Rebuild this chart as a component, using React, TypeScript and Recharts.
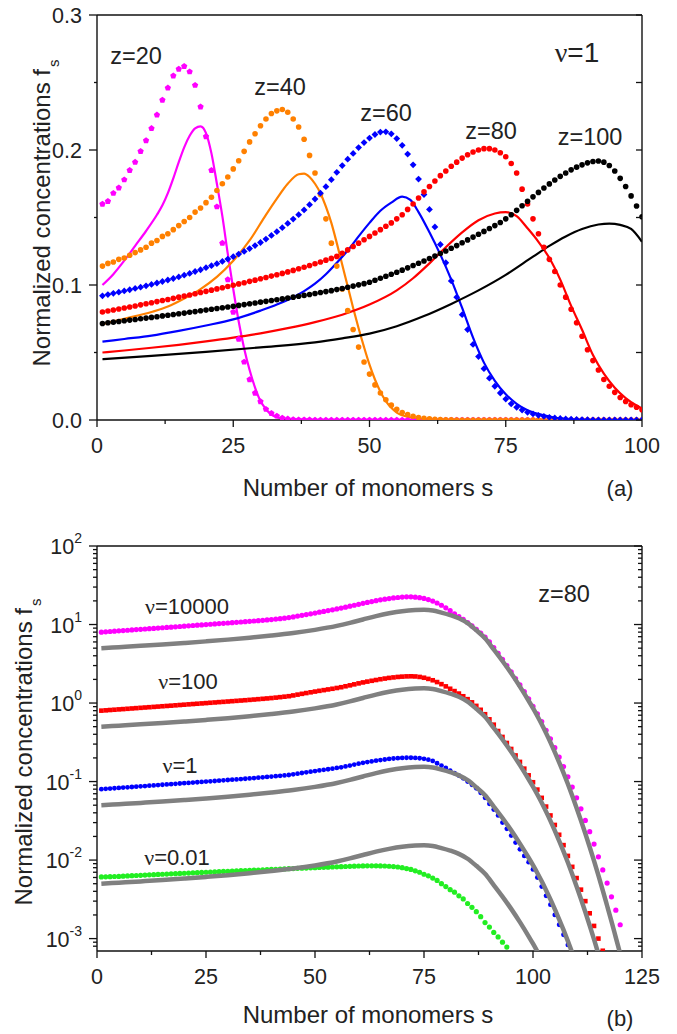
// Two-panel figure: cluster size distributions f_s (linear, z series) and log panel (nu series).
import React from 'react'
import { ComposedChart, Line, Scatter, XAxis, YAxis } from 'recharts'

const FONT = '"Liberation Sans", Arial, Helvetica, sans-serif'
const SERIF = '"Liberation Serif", "Times New Roman", serif'
const INK = '#222'

// ---- panel (a): dotted series, one value per s = 1, 2, 3, ...
const F_Z20 = [
  0.160, 0.162, 0.168, 0.172, 0.178, 0.185, 0.191, 0.199, 0.207, 0.216,
  0.226, 0.237, 0.246, 0.255, 0.260, 0.262, 0.258, 0.248, 0.232, 0.210,
  0.185, 0.158, 0.131, 0.104, 0.080, 0.060, 0.043, 0.030, 0.020, 0.0136,
  0.008, 0.005, 0.003, 0.0015, 0.0008, 0.0004, 0.0002, 0.0001, 0.0001, 0,
  0, 0, 0, 0, 0, 0, 0, 0, 0, 0,
  0, 0, 0, 0, 0, 0, 0, 0, 0, 0,
  0, 0, 0, 0, 0, 0, 0, 0, 0, 0,
  0, 0, 0, 0, 0, 0, 0, 0, 0, 0,
  0, 0, 0, 0, 0, 0, 0, 0, 0, 0,
  0, 0, 0, 0, 0, 0, 0, 0, 0, 0,
]
const F_Z40 = [
  0.114, 0.116, 0.117, 0.119, 0.120, 0.122, 0.124, 0.126, 0.128, 0.131,
  0.133, 0.136, 0.138, 0.141, 0.144, 0.147, 0.150, 0.154, 0.157, 0.161,
  0.165, 0.170, 0.175, 0.180, 0.186, 0.192, 0.199, 0.206, 0.212, 0.218,
  0.223, 0.227, 0.229, 0.230, 0.228, 0.223, 0.217, 0.208, 0.196, 0.183,
  0.167, 0.149, 0.131, 0.114, 0.097, 0.081, 0.067, 0.054, 0.043, 0.034,
  0.026, 0.020, 0.015, 0.011, 0.008, 0.0056, 0.004, 0.0028, 0.0019, 0.0013,
  0.0008, 0.0005, 0.0003, 0.0002, 0.0001, 0, 0, 0, 0, 0,
  0, 0, 0, 0, 0, 0, 0, 0, 0, 0,
  0, 0, 0, 0, 0, 0, 0, 0, 0, 0,
  0, 0, 0, 0, 0, 0, 0, 0, 0, 0,
]
const F_Z60 = [
  0.0920, 0.0929, 0.0938, 0.0947, 0.0956, 0.0965, 0.0975, 0.0984, 0.0994, 0.1004,
  0.1015, 0.1026, 0.1037, 0.1048, 0.1060, 0.1073, 0.1086, 0.1100, 0.1113, 0.1128,
  0.1143, 0.1158, 0.1175, 0.1192, 0.1210, 0.1229, 0.1249, 0.1270, 0.1292, 0.1315,
  0.1340, 0.1367, 0.1395, 0.1425, 0.1456, 0.1488, 0.1521, 0.1556, 0.1595, 0.1637,
  0.1680, 0.1728, 0.1780, 0.1835, 0.1885, 0.1932, 0.1975, 0.2018, 0.2055, 0.2088,
  0.2115, 0.2133, 0.2135, 0.2120, 0.2085, 0.2035, 0.1970, 0.1890, 0.1785, 0.1670,
  0.156, 0.143, 0.130, 0.1165, 0.103, 0.091, 0.078, 0.067, 0.056, 0.047,
  0.038, 0.031, 0.025, 0.020, 0.0155, 0.012, 0.0094, 0.0074, 0.0057, 0.0045,
  0.0035, 0.0027, 0.002, 0.0015, 0.0011, 0.0008, 0.0006, 0.0004, 0.0003, 0.0002,
  0.0001, 0, 0, 0, 0, 0, 0, 0, 0, 0,
]
// z=80, nu=1: shared by both panels (red dots in (a), blue dots in (b))
const F_Z80 = [
  0.0800, 0.0807, 0.0815, 0.0822, 0.0830, 0.0837, 0.0845, 0.0853, 0.0861, 0.0869,
  0.0877, 0.0885, 0.0893, 0.0901, 0.0910, 0.0918, 0.0926, 0.0935, 0.0944, 0.0953,
  0.0962, 0.0971, 0.0980, 0.0989, 0.0998, 0.1008, 0.1017, 0.1027, 0.1036, 0.1046,
  0.1056, 0.1066, 0.1076, 0.1086, 0.1097, 0.1108, 0.1120, 0.1132, 0.1144, 0.1157,
  0.1170, 0.1184, 0.1197, 0.1212, 0.1235, 0.126, 0.1285, 0.131, 0.1335, 0.136,
  0.1385, 0.141, 0.1435, 0.146, 0.149, 0.152, 0.156, 0.160, 0.1645, 0.169,
  0.173, 0.177, 0.181, 0.1845, 0.188, 0.191, 0.194, 0.1965, 0.1985, 0.200,
  0.201, 0.201, 0.200, 0.198, 0.195, 0.190, 0.183, 0.171, 0.160, 0.149,
  0.138, 0.128, 0.119, 0.110, 0.100, 0.091, 0.082, 0.072, 0.062, 0.052,
  0.044, 0.037, 0.030, 0.025, 0.0205, 0.0167, 0.0137, 0.0113, 0.0094, 0.0076,
  0.0060, 0.0046, 0.0035, 0.0027, 0.0020, 0.0015, 0.00112, 0.00083,
]
const F_Z100 = [
  0.0715, 0.0720, 0.0725, 0.0730, 0.0735, 0.0740, 0.0745, 0.0750, 0.0755, 0.0760,
  0.0765, 0.0771, 0.0776, 0.0781, 0.0787, 0.0792, 0.0798, 0.0803, 0.0809, 0.0814,
  0.0820, 0.0826, 0.0831, 0.0837, 0.0843, 0.0849, 0.0855, 0.0861, 0.0867, 0.0873,
  0.0879, 0.0885, 0.0891, 0.0897, 0.0904, 0.0910, 0.0917, 0.0923, 0.0930, 0.0937,
  0.0944, 0.0951, 0.0958, 0.0966, 0.0974, 0.0983, 0.0992, 0.1001, 0.1010, 0.1020,
  0.1035, 0.1050, 0.1065, 0.1080, 0.1095, 0.1110, 0.1127, 0.1144, 0.1161, 0.1178,
  0.1196, 0.1214, 0.1233, 0.1252, 0.1272, 0.1292, 0.1313, 0.1334, 0.1355, 0.1376,
  0.1397, 0.1418, 0.1440, 0.1463, 0.1490, 0.1520, 0.1553, 0.1587, 0.1620, 0.1653,
  0.1686, 0.1718, 0.1749, 0.1778, 0.1805, 0.1830, 0.1853, 0.1873, 0.1890, 0.1905,
  0.1915, 0.1918, 0.1910, 0.1885, 0.1845, 0.1790, 0.1730, 0.1660, 0.1585, 0.1506,
]

// ---- panel (a): solid curves, [s, f_s]
const L_Z20 = [
  [1, 0.100], [3, 0.108], [5, 0.118], [7, 0.129], [9, 0.140], [11, 0.152], [12, 0.159],
  [13, 0.168], [14, 0.179], [15, 0.191], [16, 0.202], [17, 0.2105], [18, 0.216], [19, 0.2175],
  [20, 0.2125], [21, 0.1975], [22, 0.175], [23, 0.151], [24, 0.123], [25, 0.097], [26, 0.073],
  [27, 0.053], [28, 0.037], [29, 0.024], [30, 0.014], [31, 0.008], [32, 0.004], [33, 0.002],
  [34, 0.001], [36, 0.0003], [40, 0], [100, 0],
]
const L_Z40 = [
  [1, 0.071], [5, 0.075], [10, 0.080], [13, 0.084], [16, 0.090], [19, 0.097], [22, 0.106],
  [25, 0.118], [28, 0.133], [31, 0.152], [33, 0.164], [35, 0.175], [37, 0.182], [38, 0.1825],
  [39, 0.180], [40, 0.175], [41, 0.168], [42, 0.158], [43, 0.146], [44, 0.131], [45, 0.115],
  [46, 0.099], [47, 0.083], [48, 0.068], [49, 0.054], [50, 0.041], [51, 0.030], [52, 0.021],
  [53, 0.014], [54, 0.009], [55, 0.0055], [56, 0.0035], [58, 0.0015], [60, 0.0006],
  [65, 0.0001], [70, 0], [100, 0],
]
const L_Z60 = [
  [1, 0.058], [5, 0.060], [10, 0.0625], [15, 0.066], [20, 0.070], [25, 0.0745], [30, 0.081],
  [33, 0.0855], [36, 0.091], [38, 0.0955], [40, 0.101], [42, 0.108], [44, 0.1165], [46, 0.1255],
  [48, 0.136], [50, 0.146], [52, 0.155], [54, 0.161], [56, 0.1655], [57.5, 0.163], [59, 0.154],
  [61, 0.139], [63, 0.1225], [65, 0.104], [67, 0.083], [69, 0.061], [71, 0.0425], [73, 0.029],
  [75, 0.019], [77, 0.012], [79, 0.0072], [82, 0.0035], [85, 0.0012], [90, 0.0002], [95, 0],
  [100, 0],
]
// z=80, nu=1 curve: red line in (a), grey nu=1 line in (b)
const L_Z80 = [
  [1, 0.050], [5, 0.0515], [10, 0.0535], [15, 0.0557], [20, 0.0582], [25, 0.061], [30, 0.0642],
  [35, 0.068], [40, 0.0725], [45, 0.078], [50, 0.0855], [55, 0.096], [58, 0.105], [61, 0.116],
  [64, 0.128], [67, 0.139], [70, 0.148], [73, 0.153], [75, 0.154], [77, 0.151], [79, 0.142],
  [81, 0.132], [83, 0.120], [85, 0.104], [87, 0.0845], [89, 0.0668], [91, 0.0481], [93, 0.0343],
  [95, 0.0239], [97, 0.0162], [99, 0.0107], [100, 0.0086], [101, 0.00684], [102, 0.00536],
  [103, 0.00414], [104, 0.00316], [105, 0.00237], [106, 0.00176], [107, 0.00129], [108, 0.00093],
  [109, 0.00066], [110, 0.000462], [111, 0.00032], [112, 0.000218], [113, 0.000147],
  [114, 0.0000975], [115, 0.0000638], [116, 0.0000412], [117, 0.0000262], [118, 0.0000166],
  [119, 0.0000103], [120, 0.0000064], [121, 0.0000039],
]
const L_Z100 = [
  [1, 0.045], [10, 0.0475], [20, 0.0505], [30, 0.0538], [40, 0.0575], [45, 0.0605], [50, 0.064],
  [55, 0.0695], [60, 0.077], [65, 0.086], [70, 0.096], [75, 0.1075], [80, 0.121], [83, 0.129],
  [86, 0.136], [89, 0.1415], [92, 0.1448], [94, 0.1455], [96, 0.1445], [98, 0.1415], [100, 0.132],
]

// ---- panel (b): dotted series (z=80), one value per s = 1, 2, 3, ...
const F_NU10000 = [
  8.00, 8.07, 8.15, 8.22, 8.30, 8.37, 8.45, 8.53, 8.61, 8.69,
  8.77, 8.85, 8.93, 9.01, 9.10, 9.18, 9.26, 9.35, 9.44, 9.53,
  9.62, 9.71, 9.80, 9.89, 9.98, 10.08, 10.17, 10.27, 10.36, 10.46,
  10.56, 10.66, 10.76, 10.86, 10.97, 11.08, 11.20, 11.32, 11.44, 11.57,
  11.72, 11.88, 12.05, 12.25, 12.5, 12.8, 13.1, 13.4, 13.7, 14.0,
  14.35, 14.7, 15.05, 15.4, 15.8, 16.2, 16.65, 17.1, 17.6, 18.1,
  18.6, 19.1, 19.6, 20.1, 20.6, 21.0, 21.4, 21.8, 22.1, 22.35,
  22.5, 22.5, 22.3, 22.0, 21.5, 20.8, 19.9, 18.8, 17.6, 16.3,
  15.0, 13.7, 12.6, 11.6, 10.6, 9.6, 8.7, 7.8, 6.9, 6.0,
  5.1, 4.3, 3.6, 3.0, 2.5, 2.05, 1.7, 1.4, 1.13, 0.91,
  0.73, 0.58, 0.45, 0.35, 0.27, 0.205, 0.155, 0.115, 0.085, 0.062,
  0.045, 0.032, 0.023, 0.016, 0.011, 0.0075, 0.0051, 0.0034, 0.0023, 0.0015,
]
const F_NU100 = [
  0.800, 0.807, 0.815, 0.822, 0.830, 0.837, 0.845, 0.853, 0.861, 0.869,
  0.877, 0.885, 0.893, 0.901, 0.910, 0.918, 0.926, 0.935, 0.944, 0.953,
  0.962, 0.971, 0.980, 0.989, 0.998, 1.008, 1.017, 1.027, 1.036, 1.046,
  1.056, 1.066, 1.076, 1.086, 1.097, 1.108, 1.120, 1.132, 1.144, 1.157,
  1.172, 1.188, 1.205, 1.222, 1.25, 1.28, 1.31, 1.34, 1.37, 1.40,
  1.43, 1.46, 1.49, 1.52, 1.555, 1.59, 1.635, 1.68, 1.73, 1.78,
  1.83, 1.875, 1.92, 1.965, 2.01, 2.05, 2.09, 2.12, 2.15, 2.17,
  2.185, 2.19, 2.18, 2.15, 2.10, 2.03, 1.95, 1.85, 1.74, 1.63,
  1.52, 1.42, 1.32, 1.22, 1.12, 1.02, 0.92, 0.82, 0.72, 0.62,
  0.53, 0.44, 0.37, 0.31, 0.26, 0.215, 0.178, 0.146, 0.12, 0.098,
  0.079, 0.062, 0.048, 0.037, 0.028, 0.021, 0.0155, 0.0113, 0.0082, 0.0059,
  0.0042, 0.0030, 0.0021, 0.00145, 0.0010, 0.0007,
]
const F_NU001 = [
  0.00610, 0.00612, 0.00615, 0.00618, 0.00620, 0.00624, 0.00628, 0.00632, 0.00636, 0.00640,
  0.00644, 0.00648, 0.00652, 0.00656, 0.00660, 0.00664, 0.00668, 0.00672, 0.00676, 0.00680,
  0.00684, 0.00688, 0.00692, 0.00696, 0.00700, 0.00704, 0.00708, 0.00712, 0.00716, 0.00720,
  0.00724, 0.00728, 0.00732, 0.00736, 0.00740, 0.00744, 0.00748, 0.00752, 0.00756, 0.00760,
  0.00764, 0.00768, 0.00772, 0.00776, 0.00780, 0.00784, 0.00788, 0.00792, 0.00796, 0.00800,
  0.00804, 0.00808, 0.00812, 0.00816, 0.00820, 0.00824, 0.00828, 0.00832, 0.00836, 0.00840,
  0.00842, 0.00844, 0.00845, 0.00845, 0.00843, 0.00840, 0.00834, 0.00826, 0.00816, 0.00800,
  0.00780, 0.00760, 0.00730, 0.00700, 0.00660, 0.00630, 0.00590, 0.00550, 0.00500, 0.00460,
  0.00420, 0.00390, 0.00350, 0.00320, 0.00280, 0.00250, 0.00220, 0.00190, 0.00160, 0.00140,
  0.00120, 0.00105, 0.00090, 0.00078,
]

// ---- panel (b): grey curves, [s, f_s]
const G_NU10000 = [
  [1, 5.0], [5, 5.15], [10, 5.35], [15, 5.57], [20, 5.82], [25, 6.1], [30, 6.42], [35, 6.8],
  [40, 7.25], [45, 7.8], [50, 8.55], [55, 9.6], [58, 10.5], [61, 11.6], [64, 12.8], [67, 13.9],
  [70, 14.8], [73, 15.3], [75, 15.4], [77, 15.1], [79, 14.2], [81, 13.2], [83, 12.0], [85, 10.4],
  [87, 8.45], [89, 6.68], [91, 4.81], [93, 3.43], [95, 2.39], [97, 1.62], [99, 1.07], [100, 0.86],
  [101, 0.684], [102, 0.536], [103, 0.414], [104, 0.316], [105, 0.237], [106, 0.176], [107, 0.129],
  [108, 0.093], [109, 0.066], [110, 0.0462], [111, 0.032], [112, 0.0218], [113, 0.0147],
  [114, 0.00975], [115, 0.00638], [116, 0.00412], [117, 0.00262], [118, 0.00166], [119, 0.00103],
  [120, 0.00064], [121, 0.00039],
]
const G_NU100 = [
  [1, 0.50], [5, 0.515], [10, 0.535], [15, 0.557], [20, 0.582], [25, 0.61], [30, 0.642],
  [35, 0.68], [40, 0.725], [45, 0.78], [50, 0.855], [55, 0.96], [58, 1.05], [61, 1.16],
  [64, 1.28], [67, 1.39], [70, 1.48], [73, 1.53], [75, 1.54], [77, 1.51], [79, 1.42], [81, 1.32],
  [83, 1.20], [85, 1.04], [87, 0.845], [89, 0.668], [91, 0.481], [93, 0.343], [95, 0.239],
  [97, 0.162], [99, 0.107], [100, 0.086], [101, 0.0684], [102, 0.0536], [103, 0.0414],
  [104, 0.0316], [105, 0.0237], [106, 0.0176], [107, 0.0129], [108, 0.0093], [109, 0.0066],
  [110, 0.00462], [111, 0.0032], [112, 0.00218], [113, 0.00147], [114, 0.000975],
  [115, 0.000638], [116, 0.000412], [117, 0.000262],
]
const G_NU001 = [
  [1, 0.005], [5, 0.00515], [10, 0.00535], [15, 0.00557], [20, 0.00582], [25, 0.0061],
  [30, 0.00642], [35, 0.0068], [40, 0.00725], [45, 0.0078], [50, 0.00855], [55, 0.0096],
  [58, 0.0105], [61, 0.0116], [64, 0.0128], [67, 0.0139], [70, 0.0148], [73, 0.0153],
  [75, 0.0154], [77, 0.0151], [79, 0.0142], [81, 0.0132], [83, 0.0120], [85, 0.0104],
  [87, 0.00845], [89, 0.00668], [91, 0.00481], [93, 0.00343], [95, 0.00239], [97, 0.00162],
  [99, 0.00107], [100, 0.00086], [101, 0.000684], [102, 0.000536], [103, 0.000414],
]

// ---- ticks
const X_TICKS_A = [0, 12.5, 25, 37.5, 50, 62.5, 75, 87.5, 100]
const Y_TICKS_A = [0, 0.05, 0.1, 0.15, 0.2, 0.25, 0.3]
const X_TICKS_B = [0, 12.5, 25, 37.5, 50, 62.5, 75, 87.5, 100, 112.5, 125]
const Y_TICKS_B = [
  0.0008, 0.0009, 0.001, 0.002, 0.003, 0.004, 0.005, 0.006, 0.007, 0.008, 0.009,
  0.01, 0.02, 0.03, 0.04, 0.05, 0.06, 0.07, 0.08, 0.09,
  0.1, 0.2, 0.3, 0.4, 0.5, 0.6, 0.7, 0.8, 0.9,
  1, 2, 3, 4, 5, 6, 7, 8, 9,
  10, 20, 30, 40, 50, 60, 70, 80, 90, 100,
]

type Pt = { s: number; v: number }
const seq = (vals: number[]): Pt[] => vals.map((v, i) => ({ s: i + 1, v }))
const pairs = (p: number[][]): Pt[] => p.map(([s, v]) => ({ s, v }))

const dot = (r: number, fill: string) => (p: any) => <circle cx={p.cx} cy={p.cy} r={r} fill={fill} />
const square = (h: number, fill: string) => (p: any) => (
  <rect x={p.cx - h} y={p.cy - h} width={2 * h} height={2 * h} fill={fill} />
)
const diamond = (r: number, fill: string) => (p: any) => (
  <path d={`M${p.cx},${p.cy - r}L${p.cx + r},${p.cy}L${p.cx},${p.cy + r}L${p.cx - r},${p.cy}Z`} fill={fill} />
)
const pentagon = (r: number, fill: string) => (p: any) => {
  const pts = [0, 1, 2, 3, 4]
    .map((k) => {
      const a = -Math.PI / 2 + (k * 2 * Math.PI) / 5
      return `${p.cx + r * Math.cos(a)},${p.cy + r * Math.sin(a)}`
    })
    .join(' ')
  return <polygon points={pts} fill={fill} />
}

const axisLine = { stroke: '#111', strokeWidth: 1.4 }
const TICK_FONT = 21.5

// Tick renderer: tickSize/tickMargin are 0, so (x, y) is the point on the axis line.
function makeTick(
  side: 'bottom' | 'left' | 'top' | 'right',
  isMajor: (v: number) => boolean,
  majorLen: number,
  minorLen: number,
  label?: (v: number) => React.ReactNode,
) {
  return (p: any) => {
    const v = p.payload.value as number
    const len = isMajor(v) ? majorLen : minorLen
    const { x, y } = p
    const ln =
      side === 'bottom' || side === 'top' ? (
        <line x1={x} x2={x} y1={y} y2={y + len} stroke="#111" strokeWidth={1.3} />
      ) : (
        <line x1={x - len} x2={x} y1={y} y2={y} stroke="#111" strokeWidth={1.3} />
      )
    let txt: React.ReactNode = null
    if (label && isMajor(v)) {
      txt =
        side === 'bottom' ? (
          <text x={x} y={y + 26} textAnchor="middle" dominantBaseline="central" fontFamily={FONT} fontSize={TICK_FONT} fill={INK}>
            {label(v)}
          </text>
        ) : (
          <text x={x - 15} y={y + 1} textAnchor="end" dominantBaseline="central" fontFamily={FONT} fontSize={TICK_FONT} fill={INK}>
            {label(v)}
          </text>
        )
    }
    return (
      <g>
        {ln}
        {txt}
      </g>
    )
  }
}

const major25 = (v: number) => Math.abs(v / 25 - Math.round(v / 25)) < 1e-9
const majorTenth = (v: number) => Math.abs(v * 10 - Math.round(v * 10)) < 1e-9
const majorDecade = (v: number) => Math.abs(Math.log10(v) - Math.round(Math.log10(v))) < 1e-9
const always = () => true

const powLabel = (v: number) => {
  const e = Math.round(Math.log10(v))
  return (
    <>
      10
      <tspan dy={-9} fontSize={14}>
        {e < 0 ? `-${-e}` : `${e}`}
      </tspan>
    </>
  )
}

const MAG = '#ff00ff'
const ORA = '#ff8000'
const BLU = '#0000ff'
const RED = '#ff0000'
const BLK = '#000000'
const GRN = '#22ee22'
const GRY = '#808080'

function PanelA() {
  const line = (d: number[][], c: string) => (
    <Line
      xAxisId="x"
      yAxisId="y"
      data={pairs(d)}
      dataKey="v"
      type="monotone"
      stroke={c}
      strokeWidth={2.2}
      dot={false}
      activeDot={false}
      isAnimationActive={false}
    />
  )
  const dots = (d: Pt[], shape: any) => (
    <Scatter xAxisId="x" yAxisId="y" data={d} dataKey="v" shape={shape} isAnimationActive={false} />
  )
  return (
    <ComposedChart width={677} height={470} margin={{ top: 15, right: 35, bottom: 20, left: 37 }}>
      <XAxis
        xAxisId="x"
        type="number"
        dataKey="s"
        domain={[0, 100]}
        allowDataOverflow
        ticks={X_TICKS_A}
        interval={0}
        height={30}
        tickSize={0}
        tickMargin={0}
        tickLine={false}
        axisLine={axisLine}
        tick={makeTick('bottom', major25, 7, 4, (v) => `${v}`)}
      />
      <XAxis
        xAxisId="xt"
        orientation="top"
        mirror
        type="number"
        domain={[0, 100]}
        allowDataOverflow
        ticks={X_TICKS_A}
        interval={0}
        height={20}
        tickSize={0}
        tickMargin={0}
        tickLine={false}
        axisLine={axisLine}
        tick={makeTick('top', always, 7, 7)}
      />
      <YAxis
        yAxisId="y"
        type="number"
        dataKey="v"
        domain={[0, 0.3]}
        allowDataOverflow
        ticks={Y_TICKS_A}
        interval={0}
        width={60}
        tickSize={0}
        tickMargin={0}
        tickLine={false}
        axisLine={axisLine}
        tick={makeTick('left', majorTenth, 8, 3, (v) => v.toFixed(1))}
      />
      <YAxis
        yAxisId="yr"
        orientation="right"
        mirror
        type="number"
        domain={[0, 0.3]}
        allowDataOverflow
        ticks={Y_TICKS_A}
        interval={0}
        width={20}
        tickSize={0}
        tickMargin={0}
        tickLine={false}
        axisLine={axisLine}
        tick={makeTick('right', always, 6, 6)}
      />
      {line(L_Z20, MAG)}
      {line(L_Z40, ORA)}
      {line(L_Z60, BLU)}
      {line(L_Z80, RED)}
      {line(L_Z100, BLK)}
      {dots(seq(F_Z20), pentagon(3.3, MAG))}
      {dots(seq(F_Z40), dot(2.8, ORA))}
      {dots(seq(F_Z60), diamond(3.4, BLU))}
      {dots(seq(F_Z80).filter((p) => p.s <= 100), dot(2.8, RED))}
      {dots(seq(F_Z100), dot(2.8, BLK))}
    </ComposedChart>
  )
}

function PanelB() {
  const grey = (d: number[][]) => (
    <Line
      xAxisId="x"
      yAxisId="y"
      data={pairs(d)}
      dataKey="v"
      type="monotone"
      stroke={GRY}
      strokeWidth={4.5}
      dot={false}
      activeDot={false}
      isAnimationActive={false}
      zIndex={700}
    />
  )
  const dots = (d: Pt[], shape: any) => (
    <Scatter xAxisId="x" yAxisId="y" data={d} dataKey="v" shape={shape} isAnimationActive={false} />
  )
  return (
    <ComposedChart width={677} height={470} margin={{ top: 15, right: 35, bottom: 20, left: 37 }}>
      <XAxis
        xAxisId="x"
        type="number"
        dataKey="s"
        domain={[0, 125]}
        allowDataOverflow
        ticks={X_TICKS_B}
        interval={0}
        height={30}
        tickSize={0}
        tickMargin={0}
        tickLine={false}
        axisLine={axisLine}
        tick={makeTick('bottom', major25, 7, 4, (v) => `${v}`)}
      />
      <XAxis
        xAxisId="xt"
        orientation="top"
        mirror
        type="number"
        domain={[0, 125]}
        allowDataOverflow
        ticks={X_TICKS_B}
        interval={0}
        height={20}
        tickSize={0}
        tickMargin={0}
        tickLine={false}
        axisLine={axisLine}
        tick={makeTick('top', major25, 7, 5)}
      />
      <YAxis
        yAxisId="y"
        type="number"
        dataKey="v"
        scale="log"
        domain={[0.000695, 100]}
        allowDataOverflow
        ticks={Y_TICKS_B}
        interval={0}
        width={60}
        tickSize={0}
        tickMargin={0}
        tickLine={false}
        axisLine={axisLine}
        tick={makeTick('left', majorDecade, 8, 4, powLabel)}
      />
      <YAxis
        yAxisId="yr"
        orientation="right"
        mirror
        type="number"
        scale="log"
        domain={[0.000695, 100]}
        allowDataOverflow
        ticks={Y_TICKS_B}
        interval={0}
        width={20}
        tickSize={0}
        tickMargin={0}
        tickLine={false}
        axisLine={axisLine}
        tick={makeTick('right', majorDecade, 8, 4)}
      />
      {dots(seq(F_NU10000), dot(2.6, MAG))}
      {dots(seq(F_NU100), square(2.3, RED))}
      {dots(seq(F_Z80), dot(2.4, BLU))}
      {dots(seq(F_NU001), dot(2.6, GRN))}
      {grey(G_NU10000)}
      {grey(G_NU100)}
      {grey(L_Z80)}
      {grey(G_NU001)}
    </ComposedChart>
  )
}

function Txt({
  x,
  y,
  size = 23.5,
  rotate = false,
  children,
}: {
  x: number
  y: number
  size?: number
  rotate?: boolean
  children: React.ReactNode
}) {
  return (
    <div
      style={{
        position: 'absolute',
        left: x,
        top: y,
        transform: `translate(-50%, -50%)${rotate ? ' rotate(-90deg)' : ''}`,
        fontFamily: FONT,
        fontSize: size,
        color: INK,
        whiteSpace: 'nowrap',
        lineHeight: 1,
      }}
    >
      {children}
    </div>
  )
}

const Nu = () => <span style={{ fontFamily: SERIF }}>ν</span>
const YTitle = () => (
  <>
    Normalized concentrations f
    <span style={{ fontSize: 15, position: 'relative', top: 9, marginLeft: 2 }}>s</span>
  </>
)

export default function App() {
  return (
    <div style={{ position: 'absolute', left: 0, top: 0, width: 677, height: 1034, background: '#fff', overflow: 'hidden' }}>
      <div style={{ position: 'absolute', left: 0, top: 0 }}>
        <PanelA />
      </div>
      <div style={{ position: 'absolute', left: 0, top: 531 }}>
        <PanelB />
      </div>

      {/* panel (a) annotations */}
      <Txt x={136} y={57}>z=20</Txt>
      <Txt x={280} y={88}>z=40</Txt>
      <Txt x={386} y={114}>z=60</Txt>
      <Txt x={491} y={132}>z=80</Txt>
      <Txt x={590} y={138}>z=100</Txt>
      <Txt x={577} y={53} size={28}>
        <Nu />=1
      </Txt>
      <Txt x={368} y={488} size={24}>Number of monomers s</Txt>
      <Txt x={620} y={489} size={22}>(a)</Txt>
      <Txt x={42} y={213} size={24} rotate>
        <YTitle />
      </Txt>

      {/* panel (b) annotations */}
      <Txt x={187} y={607} size={22}>
        <Nu />=10000
      </Txt>
      <Txt x={188} y={682} size={22}>
        <Nu />=100
      </Txt>
      <Txt x={180} y={766} size={22}>
        <Nu />=1
      </Txt>
      <Txt x={177} y={858} size={22}>
        <Nu />=0.01
      </Txt>
      <Txt x={564} y={595}>z=80</Txt>
      <Txt x={368} y={1015} size={24}>Number of monomers s</Txt>
      <Txt x={620} y={1019} size={22}>(b)</Txt>
      <Txt x={24} y={752} size={24} rotate>
        <YTitle />
      </Txt>
    </div>
  )
}
